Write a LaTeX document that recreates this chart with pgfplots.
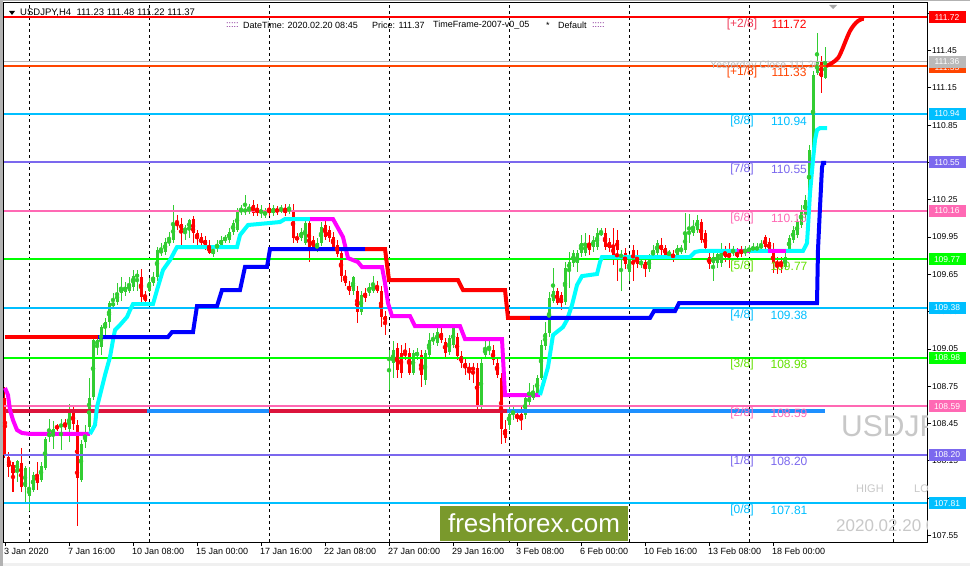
\documentclass[border=0pt]{standalone}
\usepackage{fontspec}
\setmainfont{Liberation Sans}
\usepackage{pgfplots}
\usepackage{pgfplotstable}
\pgfplotsset{compat=1.18}
\definecolor{bull}{RGB}{50,205,50}
\definecolor{bear}{RGB}{255,0,0}
\definecolor{rd}{RGB}{255,0,0}
\definecolor{bl}{RGB}{0,0,255}
\definecolor{cyn}{RGB}{0,255,255}
\definecolor{mag}{RGB}{255,0,255}
\definecolor{dsb}{RGB}{0,191,255}
\definecolor{msb}{RGB}{123,104,238}
\definecolor{hpk}{RGB}{255,105,180}
\definecolor{lim}{RGB}{0,255,0}
\definecolor{ored}{RGB}{255,69,0}
\definecolor{crim}{RGB}{220,20,60}
\definecolor{dgb}{RGB}{30,144,255}
\definecolor{ygr}{RGB}{100,225,0}
\definecolor{wm}{RGB}{200,200,200}
\definecolor{logo}{RGB}{122,153,44}
\definecolor{pur}{RGB}{110,0,130}
\definecolor{ycl}{RGB}{185,185,185}
\definecolor{rlab}{RGB}{240,60,90}

\pgfplotstableread{
i O H L C
3 108.06 108.16 107.98 108.15
5 107.94 108.11 107.82 108.09
6 107.87 108.10 107.75 107.93
7 107.92 108.06 107.90 108.04
9 108.00 108.14 107.98 108.11
10 108.09 108.34 108.08 108.33
11 108.34 108.49 108.30 108.38
12 108.36 108.47 108.25 108.41
14 108.42 108.49 108.24 108.45
16 108.41 108.61 108.30 108.54
19 108.00 108.32 107.98 108.29
20 108.30 108.44 108.25 108.37
21 108.42 108.82 108.38 108.66
22 108.66 109.15 108.64 109.12
23 109.08 109.15 109.00 109.12
24 109.07 109.24 109.00 109.23
25 109.22 109.30 109.16 109.27
26 109.27 109.44 109.22 109.42
27 109.40 109.50 109.39 109.42
28 109.43 109.58 109.40 109.50
29 109.50 109.63 109.44 109.54
30 109.51 109.59 109.48 109.55
31 109.52 109.63 109.50 109.57
32 109.55 109.69 109.52 109.64
33 109.63 109.69 109.52 109.65
36 109.52 109.62 109.51 109.59
37 109.58 109.67 109.56 109.63
38 109.63 109.87 109.60 109.85
39 109.82 109.90 109.80 109.85
40 109.83 109.94 109.81 109.91
41 109.90 109.99 109.88 109.93
42 109.93 110.21 109.90 110.06
45 110.00 110.05 109.93 110.02
46 110.01 110.10 109.94 110.09
52 109.81 109.89 109.79 109.85
53 109.86 109.93 109.83 109.89
54 109.89 109.96 109.86 109.93
55 109.93 109.97 109.90 109.94
56 109.93 110.02 109.90 109.99
57 109.99 110.09 109.97 110.06
58 110.01 110.18 109.99 110.15
59 110.15 110.21 110.13 110.18
60 110.15 110.29 110.13 110.18
61 110.16 110.22 110.14 110.18
64 110.14 110.21 110.10 110.17
65 110.13 110.18 110.10 110.15
67 110.14 110.21 110.12 110.18
69 110.16 110.21 110.14 110.18
71 110.16 110.22 110.14 110.18
74 109.94 110.02 109.92 109.99
75 109.90 110.09 109.89 110.06
78 109.85 109.94 109.83 109.90
79 109.90 110.07 109.88 110.03
87 109.52 109.64 109.48 109.63
89 109.35 109.52 109.32 109.48
91 109.50 109.58 109.48 109.55
92 109.52 109.64 109.50 109.56
96 108.96 109.04 108.72 108.98
97 108.94 109.11 108.82 109.04
102 108.86 109.04 108.84 109.02
103 109.00 109.06 108.96 109.02
105 108.80 109.04 108.76 109.02
106 109.00 109.18 108.98 109.12
107 109.11 109.18 109.08 109.14
108 109.10 109.22 109.07 109.19
111 109.03 109.16 109.00 109.14
112 109.08 109.24 109.06 109.22
119 108.60 108.98 108.56 108.94
120 109.00 109.12 108.98 109.06
121 109.04 109.12 109.00 109.06
126 108.44 108.58 108.40 108.53
127 108.53 108.60 108.48 108.54
130 108.52 108.68 108.49 108.66
131 108.62 108.78 108.60 108.66
132 108.66 108.76 108.64 108.70
133 108.70 108.84 108.67 108.82
134 108.82 109.12 108.80 109.08
135 109.07 109.27 109.04 109.18
136 109.18 109.51 109.15 109.46
137 109.44 109.70 109.42 109.52
140 109.43 109.75 109.40 109.70
141 109.69 109.83 109.54 109.75
142 109.74 109.85 109.71 109.82
143 109.74 109.85 109.67 109.82
144 109.82 109.97 109.79 109.90
145 109.82 109.98 109.80 109.90
147 109.87 109.96 109.83 109.93
148 109.87 110.02 109.85 109.98
149 109.97 110.02 109.96 109.99
154 109.79 109.85 109.52 109.81
156 109.67 109.81 109.60 109.77
159 109.73 109.79 109.70 109.75
161 109.69 109.81 109.67 109.79
162 109.79 109.89 109.77 109.85
163 109.82 109.93 109.80 109.90
166 109.81 109.85 109.79 109.82
168 109.81 109.89 109.79 109.86
169 109.84 109.89 109.81 109.85
170 109.85 110.14 109.82 109.98
171 109.98 110.14 109.90 109.99
172 109.98 110.09 109.96 110.03
173 110.01 110.13 109.98 110.09
177 109.74 109.82 109.60 109.79
178 109.74 109.85 109.70 109.81
179 109.74 109.90 109.71 109.82
182 109.82 109.88 109.80 109.85
185 109.82 109.88 109.80 109.85
186 109.83 109.89 109.81 109.86
187 109.85 109.90 109.82 109.87
188 109.85 109.90 109.82 109.87
189 109.86 109.93 109.84 109.89
195 109.71 109.82 109.69 109.79
196 109.85 109.97 109.82 109.94
197 109.93 110.04 109.90 110.01
198 109.97 110.10 109.94 110.07
199 110.05 110.21 110.02 110.17
200 110.13 110.29 110.10 110.25
201 110.21 110.69 110.18 110.65
202 110.65 111.29 110.63 111.25
203 111.27 111.59 111.25 111.36
205 111.23 111.48 111.22 111.37
}\bulltab

\pgfplotstableread{
i O H L C
0 108.66 108.74 108.17 108.20
1 108.18 108.22 108.02 108.10
2 108.12 108.14 107.90 108.05
4 108.13 108.25 107.90 107.94
8 108.04 108.14 107.92 107.97
13 108.43 108.45 108.39 108.41
15 108.45 108.49 108.40 108.42
17 108.54 108.58 108.40 108.45
18 108.44 108.48 107.63 108.01
34 109.63 109.69 109.43 109.47
35 109.48 109.52 109.43 109.44
43 110.06 110.13 110.01 110.05
44 110.06 110.10 109.89 110.01
47 110.10 110.12 109.90 109.98
48 109.98 110.01 109.89 109.94
49 109.95 109.98 109.86 109.90
50 109.93 109.96 109.85 109.89
51 109.88 109.93 109.81 109.82
62 110.21 110.25 110.12 110.14
63 110.18 110.22 110.12 110.14
66 110.18 110.22 110.12 110.14
68 110.18 110.20 110.13 110.15
70 110.18 110.22 110.12 110.14
72 110.17 110.22 109.90 109.94
73 109.95 109.98 109.90 109.93
76 110.06 110.09 109.75 109.86
77 109.93 109.96 109.85 109.86
80 110.05 110.09 109.93 109.95
81 110.01 110.04 109.91 109.94
82 109.95 109.99 109.85 109.87
83 109.89 109.93 109.79 109.81
84 109.82 109.85 109.59 109.64
85 109.64 109.69 109.56 109.58
86 109.56 109.60 109.48 109.52
88 109.52 109.56 109.26 109.35
90 109.50 109.54 109.43 109.46
93 109.56 109.60 109.50 109.52
94 109.52 109.56 109.23 109.31
95 109.32 109.36 109.16 109.27
98 109.06 109.10 108.82 108.88
99 109.02 109.08 108.82 108.86
100 109.02 109.10 108.96 109.00
101 109.02 109.06 108.84 108.86
104 109.00 109.04 108.74 108.84
109 109.18 109.22 109.10 109.12
110 109.11 109.14 108.99 109.02
113 109.15 109.18 108.96 108.99
114 108.99 109.03 108.90 108.94
115 108.94 108.98 108.84 108.90
116 108.90 108.94 108.80 108.88
117 108.90 108.94 108.78 108.88
118 108.90 108.94 108.54 108.58
122 109.04 109.08 108.92 108.96
123 108.94 108.98 108.82 108.84
124 108.82 108.86 108.29 108.41
125 108.41 108.48 108.29 108.33
128 108.52 108.56 108.46 108.49
129 108.53 108.58 108.40 108.48
138 109.52 109.54 109.40 109.42
139 109.48 109.51 109.36 109.42
146 109.90 109.97 109.81 109.85
150 109.98 110.02 109.85 109.87
151 109.91 109.94 109.83 109.86
152 109.89 110.02 109.73 109.79
153 109.93 110.01 109.60 109.85
155 109.82 109.86 109.69 109.73
157 109.85 109.89 109.60 109.74
158 109.79 109.85 109.70 109.73
160 109.75 109.79 109.63 109.69
164 109.89 109.94 109.79 109.85
165 109.86 109.89 109.79 109.81
167 109.81 109.85 109.75 109.79
174 110.07 110.10 109.90 109.93
175 109.98 110.01 109.83 109.86
176 109.79 109.83 109.69 109.73
180 109.85 109.88 109.75 109.79
181 109.82 109.90 109.70 109.79
183 109.83 109.86 109.77 109.79
184 109.85 109.88 109.79 109.81
190 109.95 109.97 109.85 109.87
191 109.91 109.94 109.82 109.85
192 109.83 109.90 109.66 109.74
193 109.75 109.79 109.65 109.73
194 109.75 109.79 109.66 109.73
204 111.36 111.41 111.11 111.24
}\beartab

\begin{document}
\begin{tikzpicture}
\path[use as bounding box] (0,0) rectangle (970pt,566pt);
\fill[white] (0,0) rectangle (970pt,566pt);
\fill[gray!60] (0,0) rectangle (2.5pt,566pt);
\fill[gray!60] (0,564.5pt) rectangle (970pt,566pt);
\fill[black!6] (2.5pt,0) rectangle (970pt,3pt);

\begin{axis}[
  at={(4pt,24pt)}, anchor=south west, scale only axis,
  width=923pt, height=539pt,
  xmin=-0.25, xmax=230.5, ymin=107.497, ymax=111.833,
  clip=false,
  axis line style={black, line width=1pt},
  tick align=outside, major tick length=4pt,
  tick style={black, line width=0.8pt},
  xtick pos=bottom, ytick pos=right, yticklabel pos=right,
  xtick={0,16,32,48,64,80,96,112,128,144,160,176,192},
  xticklabels={3 Jan 2020, 7 Jan 16:00, 10 Jan 08:00, 15 Jan 00:00, 17 Jan 16:00, 22 Jan 08:00, 27 Jan 00:00, 29 Jan 16:00, 3 Feb 08:00, 6 Feb 00:00, 10 Feb 16:00, 13 Feb 08:00, 18 Feb 00:00},
  xticklabel style={anchor=north west, inner sep=0pt, xshift=-1pt, yshift=-2pt, font=\fontsize{9}{10}\selectfont},
  ytick={107.55,107.85,108.15,108.45,108.75,109.05,109.35,109.65,109.95,110.25,110.55,110.85,111.15,111.45,111.75},
  yticklabels={107.55,{},108.15,108.45,108.75,109.05,109.35,109.65,109.95,110.25,{},110.85,111.15,111.45,{}},
  yticklabel style={anchor=west, inner sep=0pt, xshift=1pt, font=\fontsize{8.5}{10}\selectfont},
  extra x ticks={6,36,66,96,126,156,186,222},
  extra x tick labels={},
  extra x tick style={grid=major, major tick length=0pt},
  major grid style={black, line width=0.8pt, dash pattern=on 3pt off 3pt},
]
% candles
\addplot[bull, only marks, mark=none, forget plot, error bars/.cd, y dir=both, y explicit, error mark=none, error bar style={line width=1pt, bull}]
  table[x=i, y expr={(\thisrow{H}+\thisrow{L})/2}, y error expr={(\thisrow{H}-\thisrow{L})/2}] {\bulltab};
\addplot[bull, only marks, mark=none, forget plot, error bars/.cd, y dir=both, y explicit, error mark=none, error bar style={line width=3pt, bull}]
  table[x=i, y expr={(\thisrow{O}+\thisrow{C})/2}, y error expr={max(abs(\thisrow{C}-\thisrow{O})/2,0.005)}] {\bulltab};
\addplot[bear, only marks, mark=none, forget plot, error bars/.cd, y dir=both, y explicit, error mark=none, error bar style={line width=1pt, bear}]
  table[x=i, y expr={(\thisrow{H}+\thisrow{L})/2}, y error expr={(\thisrow{H}-\thisrow{L})/2}] {\beartab};
\addplot[bear, only marks, mark=none, forget plot, error bars/.cd, y dir=both, y explicit, error mark=none, error bar style={line width=3pt, bear}]
  table[x=i, y expr={(\thisrow{O}+\thisrow{C})/2}, y error expr={max(abs(\thisrow{C}-\thisrow{O})/2,0.005)}] {\beartab};

% Murrey levels
\addplot[rd, line width=2pt] coordinates {(-0.25,111.72) (230.5,111.72)};
\addplot[ored, line width=2pt] coordinates {(-0.25,111.33) (230.5,111.33)};
\addplot[ycl, line width=1pt] coordinates {(-0.25,111.36) (230.5,111.36)};
\addplot[dsb, line width=2pt] coordinates {(-0.25,110.94) (230.5,110.94)};
\addplot[msb, line width=2pt] coordinates {(-0.25,110.55) (230.5,110.55)};
\addplot[hpk, line width=2pt] coordinates {(-0.25,110.16) (230.5,110.16)};
\addplot[lim, line width=2pt] coordinates {(-0.25,109.77) (230.5,109.77)};
\addplot[dsb, line width=2pt] coordinates {(-0.25,109.38) (230.5,109.38)};
\addplot[lim, line width=2pt] coordinates {(-0.25,108.98) (230.5,108.98)};
\addplot[hpk, line width=2pt] coordinates {(-0.25,108.59) (230.5,108.59)};
\addplot[msb, line width=2pt] coordinates {(-0.25,108.20) (230.5,108.20)};
\addplot[dsb, line width=2pt] coordinates {(-0.25,107.81) (230.5,107.81)};

% crimson / dodgerblue line
\addplot[crim, line width=3.5pt] coordinates {(0,108.551) (35.5,108.551)};
\addplot[dgb, line width=3.5pt] coordinates {(35.5,108.551) (66,108.551)};
\addplot[crim, line width=3.5pt] coordinates {(66,108.551) (125.5,108.551)};
\addplot[dgb, line width=3.5pt] coordinates {(125.5,108.551) (205,108.551)};

% magenta / cyan line
\addplot[mag, line width=4pt] coordinates {(0,108.736) (0.75,108.679) (1.25,108.559) (2,108.478) (3,108.398) (4.25,108.374) (6.25,108.366) (21.25,108.366)};
\addplot[cyn, line width=4pt] coordinates {(21.25,108.366) (22.5,108.438) (23,108.583) (23.75,108.679) (25,108.840) (26.25,108.985) (27,109.122) (27.5,109.202) (28.75,109.243) (30.5,109.307) (31.25,109.363) (32,109.411) (37,109.411) (38,109.524) (39.5,109.685) (41.25,109.765) (43,109.870) (58,109.870) (58.75,109.966) (60.75,110.047) (68.75,110.071) (70,110.095) (76.25,110.095)};
\addplot[mag, line width=4pt] coordinates {(76.25,110.095) (82,110.095) (84.5,109.950) (85.75,109.781) (88.25,109.749) (89.25,109.709) (94.25,109.709) (95,109.580) (95.75,109.419) (96.75,109.315) (101.25,109.315) (102.5,109.234) (113.75,109.234) (115,109.130) (124.25,109.130) (125,108.679) (133.75,108.679)};
\addplot[cyn, line width=4pt] coordinates {(133.75,108.679) (135.75,108.904) (137,109.162) (139.5,109.226) (140.5,109.283) (141.75,109.403) (143,109.564) (144.25,109.636) (148,109.653) (148.75,109.749) (149.25,109.789) (171.25,109.789) (172.5,109.830) (173.75,109.838) (199.5,109.838) (200.5,109.902) (200.75,110.031) (201.25,110.304) (202,110.570) (202.5,110.731) (203,110.811) (203.75,110.827) (205.5,110.827)};
\addplot[mag, line width=4pt] coordinates {(183,109.838) (186.25,109.838)};
\addplot[mag, line width=4pt] coordinates {(190.75,109.838) (195.25,109.838)};

% red / blue step line
\addplot[rd, line width=4pt] coordinates {(0,109.146) (23.25,109.146)};
\addplot[bl, line width=4pt] coordinates {(23.25,109.146) (40.75,109.146) (41.75,109.186) (47,109.186) (48,109.395) (53,109.395) (54.25,109.524) (58.75,109.524) (60,109.710) (65.5,109.710) (66.25,109.854) (90,109.854)};
\addplot[rd, line width=4pt] coordinates {(90,109.854) (95,109.854) (96,109.604) (113.25,109.604) (114.5,109.524) (125,109.524) (125.75,109.299) (131.25,109.299)};
\addplot[bl, line width=4pt] coordinates {(131.25,109.299) (161.25,109.299) (162.25,109.355) (167.5,109.355) (168.5,109.419) (203,109.419) (203.25,109.85) (203.75,110.19) (204.25,110.51) (204.5,110.546) (205.25,110.546)};

% red curve
\addplot[rd, line width=4pt, smooth] coordinates {(205.25,111.326) (206.75,111.350) (208.25,111.390) (209.25,111.455) (210.25,111.535) (211.25,111.608) (212.25,111.656) (213.25,111.688) (214.25,111.704) (214.75,111.704)};

% labels
\node[anchor=west, inner sep=0pt, text=ycl, font=\fontsize{10.5}{11}\selectfont] at (axis cs:176.25,111.325) {Yesterday Close 111.36};
\tikzset{lvl/.style={inner sep=0pt, text=#1, font=\fontsize{12}{12}\selectfont}}
\node[lvl=rlab] at (axis cs:184.25,111.663) {[+2/8]};
\node[lvl=rd] at (axis cs:196,111.663) {111.72};
\node[lvl=ored] at (axis cs:184.25,111.273) {[+1/8]};
\node[lvl=ored] at (axis cs:196,111.273) {111.33};
\node[lvl=dsb] at (axis cs:184.25,110.883) {[8/8]};
\node[lvl=dsb] at (axis cs:196,110.883) {110.94};
\node[lvl=msb] at (axis cs:184.25,110.493) {[7/8]};
\node[lvl=msb] at (axis cs:196,110.493) {110.55};
\node[lvl=hpk] at (axis cs:184.25,110.103) {[6/8]};
\node[lvl=hpk] at (axis cs:196,110.103) {110.16};
\node[lvl=ygr] at (axis cs:184.25,109.713) {[5/8]};
\node[lvl=ygr] at (axis cs:196,109.713) {109.77};
\node[lvl=dsb] at (axis cs:184.25,109.323) {[4/8]};
\node[lvl=dsb] at (axis cs:196,109.323) {109.38};
\node[lvl=ygr] at (axis cs:184.25,108.923) {[3/8]};
\node[lvl=ygr] at (axis cs:196,108.923) {108.98};
\node[lvl=hpk] at (axis cs:184.25,108.533) {[2/8]};
\node[lvl=hpk] at (axis cs:196,108.533) {108.59};
\node[lvl=msb] at (axis cs:184.25,108.143) {[1/8]};
\node[lvl=msb] at (axis cs:196,108.143) {108.20};
\node[lvl=dsb] at (axis cs:184.25,107.753) {[0/8]};
\node[lvl=dsb] at (axis cs:196,107.753) {107.81};
\coordinate (B1) at (axis cs:235.5,111.72);
\coordinate (B2) at (axis cs:235.5,111.315);
\coordinate (B2g) at (axis cs:235.5,111.36);
\coordinate (B3) at (axis cs:235.5,110.94);
\coordinate (B4) at (axis cs:235.5,110.55);
\coordinate (B5) at (axis cs:235.5,110.16);
\coordinate (B6) at (axis cs:235.5,109.77);
\coordinate (B7) at (axis cs:235.5,109.38);
\coordinate (B8) at (axis cs:235.5,108.98);
\coordinate (B9) at (axis cs:235.5,108.59);
\coordinate (B10) at (axis cs:235.5,108.20);
\coordinate (B11) at (axis cs:235.5,107.81);
\end{axis}

% right price boxes
\tikzset{pbox/.style={fill=#1, text=white, minimum width=37pt, minimum height=12pt, inner sep=0pt, font=\fontsize{8.5}{10}\selectfont}}
\node[pbox=rd] at (B1) {111.72};
\node[pbox=ored] at (B2) {111.33};
\node[pbox=ycl] at (B2g) {111.36};
\node[pbox=dsb] at (B3) {110.94};
\node[pbox=msb] at (B4) {110.55};
\node[pbox=hpk] at (B5) {110.16};
\node[pbox=lim] at (B6) {109.77};
\node[pbox=dsb] at (B7) {109.38};
\node[pbox=lim] at (B8) {108.98};
\node[pbox=hpk] at (B9) {108.59};
\node[pbox=msb] at (B10) {108.20};
\node[pbox=dsb] at (B11) {107.81};

% watermark texts
\begin{scope}
\clip (4pt,24pt) rectangle (927pt,563pt);
\node[anchor=west, inner sep=0pt, text=wm, font=\fontsize{30}{30}\selectfont] at (841pt,140pt) {USDJPY};
\node[anchor=west, inner sep=0pt, text=wm, font=\fontsize{11}{11}\selectfont] at (856pt,77pt) {HIGH};
\node[anchor=west, inner sep=0pt, text=wm, font=\fontsize{11}{11}\selectfont] at (914pt,77pt) {LOW};
\node[anchor=west, inner sep=0pt, text=wm, font=\fontsize{17}{17}\selectfont] at (836pt,40pt) {2020.02.20 08:45};
\end{scope}

% header texts
\fill[black] (9pt,555pt) -- (15pt,555pt) -- (12pt,551pt) -- cycle;
\node[anchor=west, inner sep=0pt, font=\fontsize{9.5}{10}\selectfont] at (20pt,553.5pt) {USDJPY,H4\ \ 111.23 111.48 111.22 111.37};
\begin{scope}[every node/.style={anchor=west, inner sep=0pt, font=\fontsize{9}{10}\selectfont}]
\node[text=pur] at (226pt,541pt) {:::::};
\node at (243pt,541pt) {DateTime: 2020.02.20 08:45};
\node at (372pt,541pt) {Price: 111.37};
\node at (433pt,541pt) {TimeFrame-2007-v0\_05};
\node at (546pt,541pt) {*};
\node at (558pt,541pt) {Default};
\node[text=pur] at (592pt,541pt) {:::::};
\end{scope}
\fill[gray!70] (829pt,561pt) -- (837pt,561pt) -- (833pt,557pt) -- cycle;

% logo
\fill[logo] (440pt,25pt) rectangle (628pt,60pt);
\node[text=white, inner sep=0pt, font=\fontsize{26}{26}\selectfont] at (534pt,43pt) {freshforex.com};
\end{tikzpicture}
\end{document}
